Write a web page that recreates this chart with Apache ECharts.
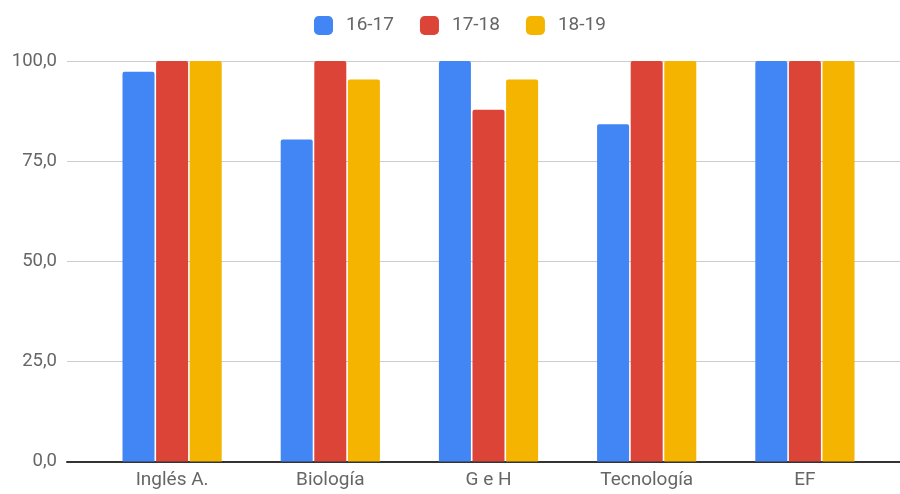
<!DOCTYPE html>
<html><head><meta charset="utf-8">
<script src="https://cdn.jsdelivr.net/npm/echarts@6/dist/echarts.min.js"></script>
<style>html,body{margin:0;padding:0;background:#fff}#c{width:900px;height:494px}</style>
</head><body><div id="c"></div>
<script>
const categories = ['Inglés A.', 'Biología', 'G e H', 'Tecnología', 'EF'];
const seriesNames = ['16-17', '17-18', '18-19'];
const s1617 = [97.3, 80.4, 100, 84.2, 100];
const s1718 = [100, 100, 87.8, 100, 100];
const s1819 = [100, 95.4, 95.4, 100, 100];
const colors = ['#4285F4', '#DB4437', '#F4B400'];

const chart = echarts.init(document.getElementById('c'));
const font = 'Roboto, Arial, sans-serif';
const txt = '#666666';
const mk = (name, data, color) => ({
  name, type: 'bar', xAxisIndex: 1, yAxisIndex: 1, data,
  barWidth: 32, barGap: '5%',
  itemStyle: { color, borderRadius: [2, 2, 0, 0] }
});
chart.setOption({
  animation: false,
  color: colors,
  textStyle: { fontFamily: font },
  legend: {
    top: 11, left: 309, itemWidth: 19, itemHeight: 19, itemGap: 26,
    icon: 'roundRect',
    textStyle: { fontSize: 19, color: txt, fontFamily: font, padding: [0, 0, 0, 8] },
    data: seriesNames
  },
  grid: [
    { left: 67, right: 0, top: 61, bottom: 32.5 },
    { left: 93, right: 16, top: 61, bottom: 32.5 }
  ],
  xAxis: [
    { gridIndex: 0, type: 'value', min: 0, max: 1,
      axisLine: { show: true, lineStyle: { color: '#333', width: 2 } },
      axisTick: { show: false }, axisLabel: { show: false }, splitLine: { show: false } },
    { gridIndex: 1, type: 'category', data: categories,
      axisLine: { show: false }, axisTick: { show: false },
      axisLabel: { fontSize: 19, color: txt, margin: 9, fontFamily: font } }
  ],
  yAxis: [
    { gridIndex: 0, type: 'value', min: 0, max: 100, interval: 25,
      axisLine: { show: false }, axisTick: { show: false },
      splitLine: { lineStyle: { color: '#cccccc', width: 1 } },
      axisLabel: { fontSize: 18.5, color: txt, margin: 10, fontFamily: font,
        formatter: v => v.toFixed(1).replace('.', ',') } },
    { gridIndex: 1, type: 'value', min: 0, max: 100, interval: 25, show: false }
  ],
  series: [
    mk(seriesNames[0], s1617, colors[0]),
    mk(seriesNames[1], s1718, colors[1]),
    mk(seriesNames[2], s1819, colors[2])
  ]
});
</script></body></html>
